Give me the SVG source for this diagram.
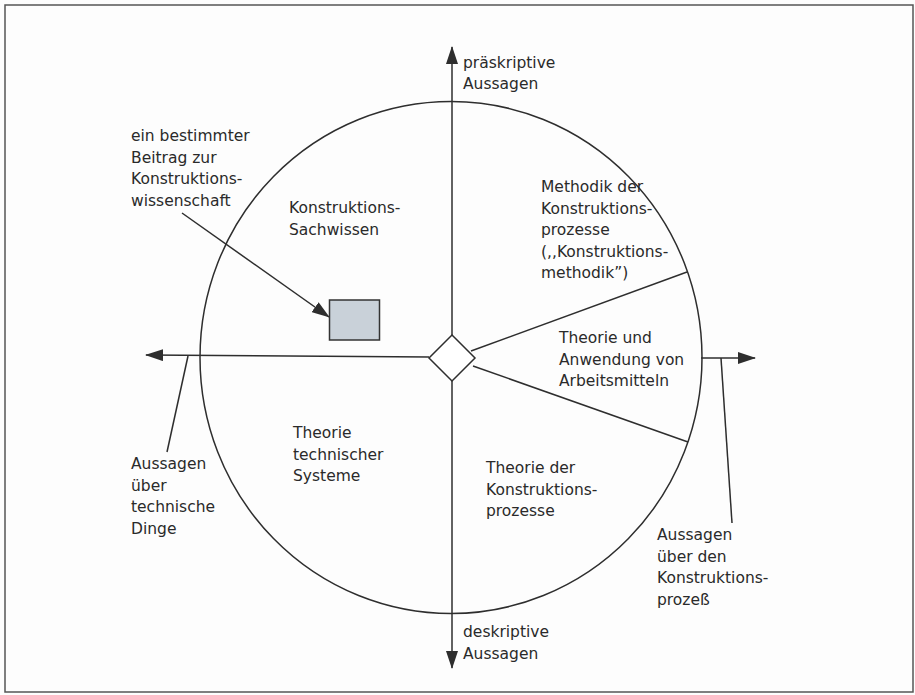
<svg xmlns="http://www.w3.org/2000/svg" width="915" height="695" viewBox="0 0 915 695">
<style>
.ln{stroke:#2e2e2e;stroke-width:1.5;fill:none}
.t{font-family:"DejaVu Sans","Liberation Sans",sans-serif;font-size:15.5px;fill:#2a2a2a}
</style>
<defs>
<marker id="ah" viewBox="0 0 18 12" markerWidth="18" markerHeight="12" refX="17" refY="6" orient="auto" markerUnits="userSpaceOnUse">
<path d="M0,0 L18,6 L0,12 Z" fill="#2e2e2e"/>
</marker>
</defs>
<rect x="0" y="0" width="915" height="695" fill="#fdfdfd"/>
<rect x="5" y="5" width="908" height="687" fill="none" stroke="#555" stroke-width="1.5"/>
<g id="circle">
<ellipse cx="451" cy="357.5" rx="251" ry="256" class="ln"/>
</g>
<g id="connectors">
<line x1="452" y1="335" x2="452" y2="47" class="ln" marker-end="url(#ah)"/>
<line x1="452" y1="381" x2="452" y2="668" class="ln" marker-end="url(#ah)"/>
<line x1="429" y1="357" x2="146" y2="355" class="ln" marker-end="url(#ah)"/>
<line x1="701" y1="358" x2="755" y2="358" class="ln" marker-end="url(#ah)"/>
<line x1="471" y1="351" x2="687" y2="272" class="ln"/>
<line x1="473" y1="366" x2="688" y2="442" class="ln"/>
<line x1="188" y1="356" x2="167" y2="452" class="ln"/>
<line x1="721" y1="358" x2="732" y2="523" class="ln"/>
<line x1="182" y1="213" x2="329" y2="317" class="ln" marker-end="url(#ah)"/>
</g>
<g id="center">
<polygon points="452,335 475,358 452,381 429,358" fill="#fff" class="ln" style="fill:#fff"/>
</g>
<g id="box">
<rect x="329.5" y="300" width="50" height="40" fill="#c9d1d9" stroke="#333" stroke-width="1.5"/>
</g>
<g id="label-praeskriptiv">
<text class="t" x="463" y="68">präskriptive</text>
<text class="t" x="463" y="89">Aussagen</text>
</g>
<g id="label-beitrag">
<text class="t" x="131" y="141">ein bestimmter</text>
<text class="t" x="131" y="162.5">Beitrag zur</text>
<text class="t" x="131" y="184">Konstruktions-</text>
<text class="t" x="131" y="205.5">wissenschaft</text>
</g>
<g id="sector-sachwissen">
<text class="t" x="289" y="213">Konstruktions-</text>
<text class="t" x="289" y="234.5">Sachwissen</text>
</g>
<g id="sector-methodik">
<text class="t" x="541" y="192">Methodik der</text>
<text class="t" x="541" y="213.5">Konstruktions-</text>
<text class="t" x="541" y="235">prozesse</text>
<text class="t" x="541" y="256.5">(,,Konstruktions-</text>
<text class="t" x="541" y="278">methodik”)</text>
</g>
<g id="sector-arbeitsmittel">
<text class="t" x="559" y="343">Theorie und</text>
<text class="t" x="559" y="364.5">Anwendung von</text>
<text class="t" x="559" y="386">Arbeitsmitteln</text>
</g>
<g id="sector-systeme">
<text class="t" x="293" y="438">Theorie</text>
<text class="t" x="293" y="459.5">technischer</text>
<text class="t" x="293" y="481">Systeme</text>
</g>
<g id="sector-prozesse">
<text class="t" x="486" y="473">Theorie der</text>
<text class="t" x="486" y="494.5">Konstruktions-</text>
<text class="t" x="486" y="516">prozesse</text>
</g>
<g id="label-dinge">
<text class="t" x="131" y="469">Aussagen</text>
<text class="t" x="131" y="490.5">über</text>
<text class="t" x="131" y="512">technische</text>
<text class="t" x="131" y="533.5">Dinge</text>
</g>
<g id="label-prozess">
<text class="t" x="657" y="540">Aussagen</text>
<text class="t" x="657" y="561.5">über den</text>
<text class="t" x="657" y="583">Konstruktions-</text>
<text class="t" x="657" y="604.5">prozeß</text>
</g>
<g id="label-deskriptiv">
<text class="t" x="463" y="637">deskriptive</text>
<text class="t" x="463" y="658.5">Aussagen</text>
</g>
</svg>
